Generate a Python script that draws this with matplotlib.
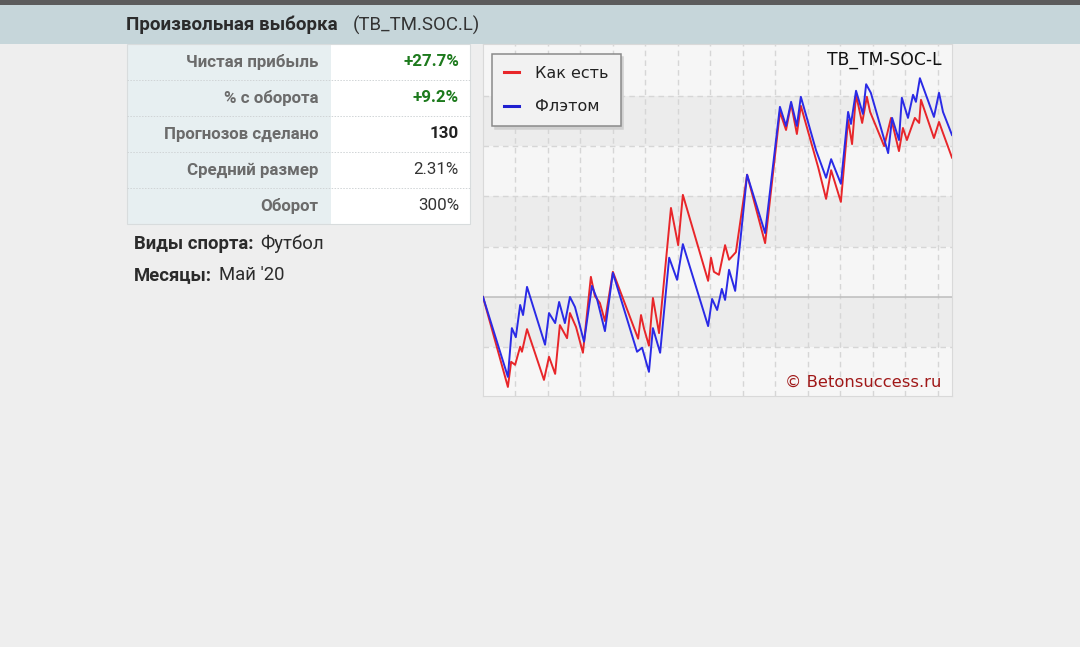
import matplotlib
matplotlib.use("Agg")
import matplotlib.pyplot as plt
from matplotlib.patches import Rectangle
from matplotlib.lines import Line2D

# --- данные ---
stat_labels = ["Чистая прибыль", "% с оборота", "Прогнозов сделано", "Средний размер", "Оборот"]
stat_values = ["+27.7%", "+9.2%", "130", "2.31%", "300%"]
stat_colors = ["#1d7a1d", "#1d7a1d", "#222222", "#333333", "#333333"]
stat_bold = [True, True, True, False, False]

# "Как есть" (номер прогноза, прибыль %)
asis_x = [0, 6.9, 7.8, 8.9, 10.3, 10.8, 12.2, 16.9, 18.3, 20.0, 21.3, 23.3, 24.1, 25.8,
          27.7, 29.9, 31.0, 32.4, 33.8, 36.0, 43.0, 43.8, 44.6, 46.0, 47.1, 48.8, 52.1,
          54.1, 55.4, 62.4, 63.2, 64.0, 65.4, 67.1, 68.2, 70.1, 73.2, 78.2, 82.3, 84.0,
          85.4, 87.0, 88.1, 92.9, 95.1, 96.5, 99.2, 101.2, 102.3, 103.4, 105.1, 106.4,
          107.3, 111.2, 113.1, 115.3, 116.4, 117.5, 119.7, 120.9, 121.4, 125.0, 126.4,
          127.5, 130.0]
asis_y = [0, -17.9, -12.9, -13.5, -9.9, -10.9, -6.4, -16.5, -11.9, -15.3, -5.6, -8.2, -3.2,
          -6.0, -11.1, 4.0, 0.2, -1.2, -4.8, 5.0, -8.3, -3.6, -6.2, -9.7, -0.2, -7.2, 17.7,
          10.3, 20.3, 3.2, 7.8, 5.0, 4.4, 10.3, 7.4, 8.9, 24.3, 10.7, 36.8, 33.2, 38.4,
          32.4, 38.0, 25.8, 19.5, 25.2, 18.9, 35.2, 30.4, 40.2, 34.6, 39.8, 36.8, 30.0,
          35.6, 29.0, 33.6, 31.2, 35.6, 34.6, 39.2, 31.6, 34.8, 32.6, 27.7]

# "Флэтом"
flat_x = [0, 6.9, 8.0, 9.1, 10.3, 11.1, 12.2, 17.2, 18.3, 20.0, 21.1, 22.7, 24.1, 25.5,
          28.0, 30.2, 31.6, 33.8, 36.0, 42.7, 44.1, 46.0, 47.1, 49.1, 51.6, 53.8, 55.4,
          62.4, 63.5, 64.9, 66.2, 67.1, 68.2, 69.9, 73.2, 78.2, 82.3, 84.0, 85.4, 87.0,
          88.1, 92.3, 95.1, 96.5, 99.2, 101.2, 102.0, 103.4, 105.3, 106.2, 107.5, 112.3,
          113.4, 115.3, 116.1, 117.8, 119.2, 120.0, 121.1, 125.0, 126.4, 127.5, 130.0]
flat_y = [0, -15.9, -6.2, -8.0, -1.6, -3.6, 2.0, -9.5, -3.2, -5.2, -1.0, -5.2, 0.0, -2.0,
          -8.9, 2.2, -0.4, -6.8, 4.8, -10.9, -10.1, -14.9, -6.2, -11.1, 7.8, 3.4, 10.5,
          -5.8, -0.4, -2.6, 1.6, -0.6, 5.4, 1.2, 24.3, 12.7, 37.8, 34.0, 38.8, 34.0, 39.8,
          29.2, 23.7, 27.4, 22.5, 36.8, 34.4, 41.0, 36.4, 42.3, 40.6, 28.6, 35.6, 31.2,
          39.6, 35.6, 40.2, 38.8, 43.5, 35.8, 40.6, 36.8, 32.2]

W, H = 1080, 647
fig = plt.figure(figsize=(W / 100, H / 100), dpi=100)
fig.patch.set_facecolor("#eeeeee")

# фон страницы в пикселях
bg = fig.add_axes([0, 0, 1, 1])
bg.set_xlim(0, W)
bg.set_ylim(H, 0)
bg.axis("off")

# шапка
bg.add_patch(Rectangle((0, 0), W, 5, color="#5c5c5c", lw=0))
bg.add_patch(Rectangle((0, 5), W, 39, color="#c6d6da", lw=0))
bg.text(126, 25, "Произвольная выборка", family="Roboto", weight="bold", fontsize=13.5,
        color="#2b2b2b", va="center", ha="left")
bg.text(353, 25, "(TB_TM.SOC.L)", family="Roboto", fontsize=13.4,
        color="#333333", va="center", ha="left")

# таблица
tx0, tx1, tsplit, ty0, rh = 127, 470, 331, 44, 36
bg.add_patch(Rectangle((tx0, ty0), tsplit - tx0, rh * 5, facecolor="#e7eff1",
                       edgecolor="none"))
bg.add_patch(Rectangle((tsplit, ty0), tx1 - tsplit, rh * 5, facecolor="white",
                       edgecolor="none"))
bg.add_patch(Rectangle((tx0, ty0), tx1 - tx0, rh * 5, facecolor="none",
                       edgecolor="#d8dcdd", lw=0.8))
for i in range(1, 5):
    bg.plot([tx0, tx1], [ty0 + i * rh] * 2, color="#d0d4d6", lw=0.7, ls=(0, (1.5, 1.5)))

for i, (lab, val) in enumerate(zip(stat_labels, stat_values)):
    yc = ty0 + rh * i + rh / 2
    bg.text(318, yc, lab, family="Roboto", weight="bold", fontsize=12.2,
            color="#6b6b6b", ha="right", va="center")
    bg.text(459, yc, val, family="Roboto", weight="bold" if stat_bold[i] else "normal",
            fontsize=12.2, color=stat_colors[i], ha="right", va="center")

bg.text(134, 244, "Виды спорта:", family="Roboto", weight="bold", fontsize=13.3,
        color="#2b2b2b", va="center")
bg.text(260, 244, "Футбол", family="Roboto", fontsize=13.3, color="#2b2b2b", va="center")
bg.text(134, 275, "Месяцы:", family="Roboto", weight="bold", fontsize=13.3,
        color="#2b2b2b", va="center")
bg.text(219, 275, "Май '20", family="Roboto", fontsize=13.3, color="#2b2b2b", va="center")

# график
ax = fig.add_axes([483 / W, 1 - 396 / H, (952 - 483) / W, (396 - 44) / H])
ax.set_xlim(0, 130)
ax.set_ylim(-19.7, 50.3)
ax.set_facecolor("#f6f6f6")
for b in [-10, 10, 30]:
    ax.axhspan(b, b + 10, color="#ececec", lw=0, zorder=0)

for gx in range(9, 130, 9):
    ax.axvline(gx, color="#d6d6d6", lw=1.0, ls=(0, (4, 3)), zorder=1)
for gy in [-10, 10, 20, 30, 40]:
    ax.axhline(gy, color="#d6d6d6", lw=1.0, ls=(0, (4, 3)), zorder=1)
ax.axhline(0, color="#bdbdbd", lw=1.1, zorder=1)

ax.plot(asis_x, asis_y, color="#e8262a", lw=1.4, zorder=3, label="Как есть")
ax.plot(flat_x, flat_y, color="#2a2ae6", lw=1.4, zorder=4, label="Флэтом")

ax.set_xticks([])
ax.set_yticks([])
for s in ax.spines.values():
    s.set_color("#d9d9d9")
    s.set_linewidth(0.8)

handles = [Line2D([], [], color="#e8262a", lw=2.2), Line2D([], [], color="#2020d0", lw=2.2)]
leg = ax.legend(handles, ["Как есть", "Флэтом"], loc="upper left",
                bbox_to_anchor=(0.019, 0.972), borderaxespad=0, fancybox=False,
                framealpha=1, facecolor="#f2f2f2", edgecolor="#8a8a8a", fontsize=11.5,
                handlelength=0.95, handletextpad=1.0, labelspacing=1.15, borderpad=0.75,
                shadow={"color": "#d0d0d0", "alpha": 1})
leg.get_frame().set_linewidth(1.1)
for t in leg.get_texts():
    t.set_color("#222222")

ax.text(0.977, 0.955, "TB_TM-SOC-L", transform=ax.transAxes, ha="right", va="center",
        fontsize=12.3, color="#111111", family="DejaVu Sans")
ax.text(0.977, 0.04, "© Betonsuccess.ru", transform=ax.transAxes, ha="right",
        va="center", fontsize=11.8, color="#a01818", family="DejaVu Sans")

fig.savefig("out.png", dpi=100, facecolor=fig.get_facecolor())
